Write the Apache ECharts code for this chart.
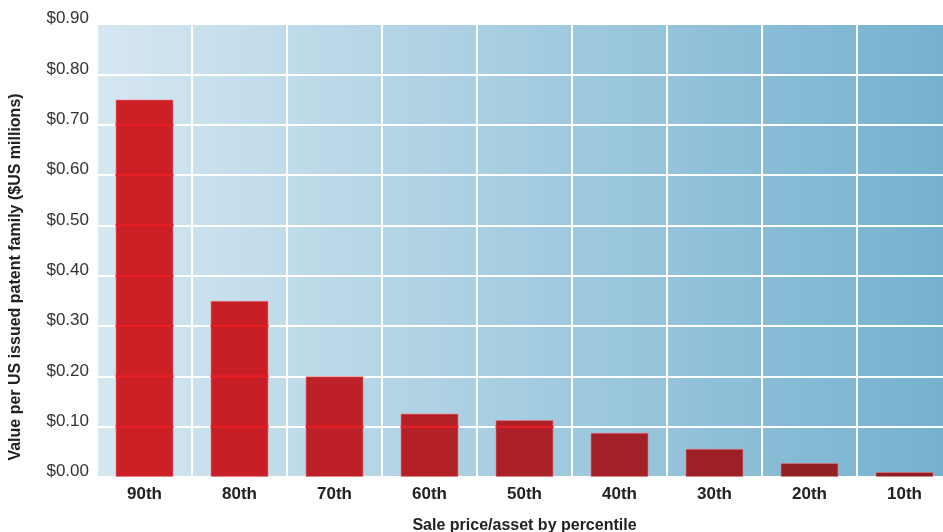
<!DOCTYPE html>
<html><head><meta charset="utf-8">
<script src="https://cdn.jsdelivr.net/npm/echarts@6/dist/echarts.min.js"></script>
<style>html,body{margin:0;padding:0;background:#fff}#c{width:943px;height:532px}</style>
</head><body><div id="c"></div>
<script>
const categories = ["90th","80th","70th","60th","50th","40th","30th","20th","10th"];
const values = [0.75, 0.35, 0.20, 0.126, 0.113, 0.088, 0.056, 0.028, 0.010];
const yTickMin = 0, yTickMax = 0.9, yTickStep = 0.1;
const yAxisTitle = "Value per US issued patent family ($US millions)";
const xAxisTitle = "Sale price/asset by percentile";
const barColors = ["#cc1f26","#c81f26","#bd2027","#b32026","#ab2026","#a32026","#9c2026","#932025","#8d1f24"];

const BAR_W = 58;
const chart = echarts.init(document.getElementById('c'), null, {renderer:'canvas'});
chart.setOption({
  animation:false,
  grid:{left:97, top:24, width:855, bottom:55, show:true, borderWidth:0, outerBoundsMode:'none', containLabel:false,
    backgroundColor:new echarts.graphic.LinearGradient(0,0,1,0,[{offset:0,color:'#d6e7f1'},{offset:1,color:'#74b1cf'}])},
  graphic:[{type:'text', x:16, y:277, rotation:Math.PI/2,
    style:{text:yAxisTitle, fill:'#222', font:'bold 16px "Liberation Sans"', align:'center', verticalAlign:'middle'}}],
  xAxis:{type:'category', data:categories,
    axisLine:{show:false}, axisTick:{show:false},
    splitLine:{show:true, lineStyle:{color:'#ffffff', width:2}},
    axisLabel:{color:'#222', fontFamily:'Liberation Sans', fontWeight:'bold', fontSize:17, margin:9},
    name:xAxisTitle, nameLocation:'middle', nameGap:41,
    nameTextStyle:{color:'#222', fontFamily:'Liberation Sans', fontWeight:'bold', fontSize:16}
  },
  yAxis:{type:'value', min:yTickMin, max:yTickMax, interval:yTickStep,
    axisLine:{show:false}, axisTick:{show:false},
    splitLine:{show:true, lineStyle:{color:'#ffffff', width:2}},
    axisLabel:{color:'#333', fontFamily:'Liberation Sans', fontSize:17, margin:8, verticalAlign:'bottom', lineHeight:11,
      formatter:v=>'$'+v.toFixed(2)}
  },
  series:[{type:'bar', barWidth:BAR_W,
    data:values.map((v,i)=>({value:v, itemStyle:{color:barColors[i]}})),
    itemStyle:{borderColor:'rgba(240,120,130,0.6)', borderWidth:1}
  },{
    type:'custom', z:5, silent:true,
    data:values.map((v,i)=>[i,v]),
    renderItem:function(params, api){
      const idx = api.value(0), v = api.value(1);
      const c = api.coord([idx, 0]);
      const children = [];
      for (let t = yTickStep; t < v - 1e-9; t += yTickStep) {
        const y = api.coord([idx, t])[1];
        children.push({type:'line', shape:{x1:c[0]-BAR_W/2, y1:y, x2:c[0]+BAR_W/2, y2:y},
          style:{stroke:'#ec1c24', lineWidth:2}});
      }
      return {type:'group', children};
    }
  }]
});
</script></body></html>
